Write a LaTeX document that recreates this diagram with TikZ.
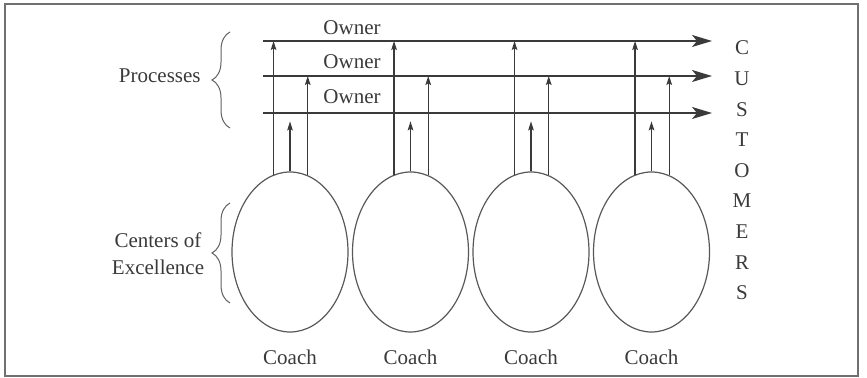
\documentclass[tikz,border=0pt]{standalone}
\usepackage{fontspec}
\setmainfont{Liberation Serif}
\usetikzlibrary{arrows.meta,shapes.geometric,decorations.pathreplacing}
\definecolor{ink}{HTML}{3A3A3A}
\definecolor{frame}{HTML}{707070}
\begin{document}
\begin{tikzpicture}[x=0.5pt,y=-0.5pt,
  lbl/.style={text=ink,font=\fontsize{10.5}{12}\selectfont,inner sep=0pt},
  process/.style={draw=ink,line width=0.85pt,-{Stealth[length=10pt,width=6pt,inset=2.5pt]}},
  feed/.style={draw=ink,line width=0.6pt,-{Stealth[length=4.5pt,width=2.8pt,inset=0.8pt]}},
  centre/.style={draw=ink!85,line width=0.6pt,ellipse,minimum width=58pt,minimum height=80pt,inner sep=0pt},
  curly/.style={draw=ink!80,line width=0.5pt,decorate,decoration={brace,amplitude=9pt}}]
  \useasboundingbox (0,0) rectangle (867,378);
  \draw[frame,line width=0.8pt] (5,4) rectangle (858,376);

  % process lines
  \coordinate (p1s) at (263,41);  \coordinate (p1e) at (712,41);
  \coordinate (p2s) at (263,76);  \coordinate (p2e) at (712,76);
  \coordinate (p3s) at (263,113); \coordinate (p3e) at (712,113);
  \draw[process] (p1s) -- (p1e);
  \draw[process] (p2s) -- (p2e);
  \draw[process] (p3s) -- (p3e);
  \node[lbl] (o1) at (352,28) {Owner};
  \node[lbl] (o2) at (352,62) {Owner};
  \node[lbl] (o3) at (352,97) {Owner};

  % centres of excellence
  \foreach \i/\cx in {1/290,2/410.5,3/531,4/651.5}{
    \node[centre] (e\i) at (\cx,252) {};
    \node[lbl] (c\i) at (\cx,357) {Coach};
    \draw[feed] (e\i.102.5) -- (e\i.102.5 |- p1s);
    \draw[feed] (e\i.77.5) -- (e\i.77.5 |- p2s);
    \draw[feed] (e\i.north) -- ++(0,-50);
  }

  % braces and side labels
  \coordinate (b1a) at (230,128); \coordinate (b1b) at (230,32);
  \coordinate (b2a) at (230,303); \coordinate (b2b) at (230,203);
  \draw[curly] (b1a) -- (b1b);
  \draw[curly] (b2a) -- (b2b);
  \node[lbl,anchor=east] (proc) at (201,76) {Processes};
  \node[lbl,align=center] (coe) at (158,254) {Centers of\\[1.5pt]Excellence};

  % customers column
  \foreach \l [count=\k] in {C,U,S,T,O,M,E,R,S}{
    \node[lbl] (cu\k) at (742,{48+30.6*(\k-1)}) {\l};
  }
\end{tikzpicture}
\end{document}
